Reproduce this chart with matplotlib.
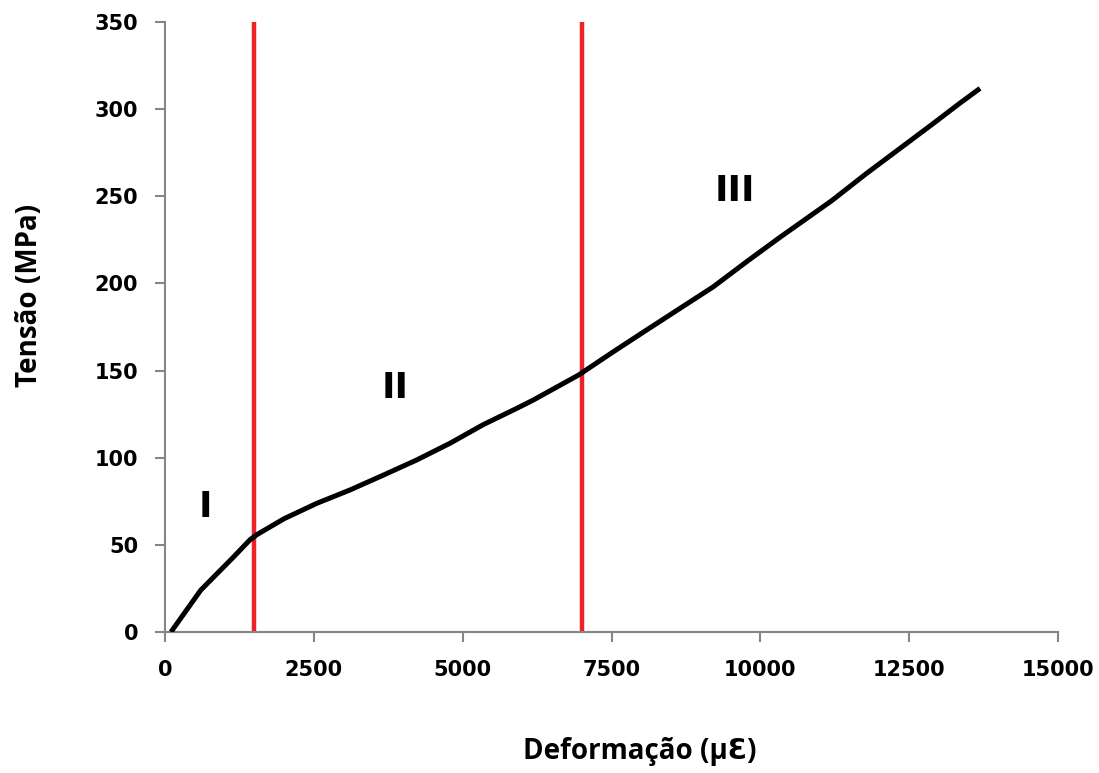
import matplotlib
matplotlib.use("Agg")
import matplotlib.pyplot as plt

# stress-strain curve
strain = [100, 600, 1150, 1430, 1550, 2000, 2548, 3108, 3667, 4228, 4788, 5347,
          5908, 6187, 6950, 7531, 8091, 8651, 9211, 9771, 10331, 10890, 11200,
          11787, 12347, 12906, 13355, 13690]
stress = [0, 24, 43, 53, 56, 65, 73.8, 81.5, 90, 98.7, 108.3, 119.0,
          128.3, 133.1, 147.5, 160.8, 173.3, 185.7, 198.1, 212.5, 226.5, 240, 247.5,
          263.2, 277.5, 291.8, 303.5, 311.9]

limits = [1500, 7000]   # red region boundaries
regions = ["I", "II", "III"]
region_x = [672, 3864, 9576]
region_y = [71.7, 140, 253]

xticks = [0, 2500, 5000, 7500, 10000, 12500, 15000]
yticks = [0, 50, 100, 150, 200, 250, 300, 350]

plt.rcParams['font.family'] = ['DejaVu Sans']
plt.rcParams['font.weight'] = 'bold'

fig = plt.figure(figsize=(10.99, 7.73), dpi=100)
ax = fig.add_axes([165 / 1099, 1 - 632 / 773, 893 / 1099, 610 / 773])

for xl in limits:
    ax.plot([xl, xl], [0, 350], color='#ee2127', lw=3.2, solid_capstyle='butt', zorder=2)
ax.plot(strain, stress, color='black', lw=3.6, solid_capstyle='butt',
        solid_joinstyle='round', zorder=3)

for r, rx, ry in zip(regions, region_x, region_y):
    ax.text(rx, ry, r, fontsize=26, fontweight='bold', ha='center', va='center')

ax.set_xlim(0, 15000)
ax.set_ylim(0, 350)
ax.set_xticks(xticks)
ax.set_yticks(yticks)
ax.set_xticklabels([str(v) for v in xticks], fontsize=15, fontweight='bold')
ax.set_yticklabels([str(v) for v in yticks], fontsize=15, fontweight='bold')

for s in ['top', 'right']:
    ax.spines[s].set_visible(False)
for s in ['left', 'bottom']:
    ax.spines[s].set_color('#868686')
    ax.spines[s].set_linewidth(1.5)

ax.tick_params(axis='both', direction='out', length=7.2, width=1.5, color='#868686')
ax.tick_params(axis='x', pad=13)
ax.tick_params(axis='y', pad=12)

lab_font = ['Open Sans', 'DejaVu Sans']
fig.text(640 / 1099, 1 - 752 / 773, 'Deformação (μƐ)', fontsize=20, fontweight='bold',
         ha='center', va='center', family=lab_font)
fig.text(30 / 1099, 1 - 295 / 773, 'Tensão (MPa)', fontsize=20, fontweight='bold',
         ha='center', va='center', rotation=90, family=lab_font)

fig.savefig('out.png', dpi=100)
